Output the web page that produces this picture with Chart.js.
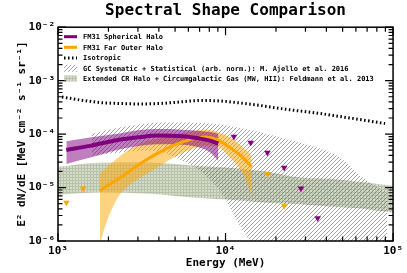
<!DOCTYPE html>
<html>
<head>
<meta charset="utf-8">
<script src="https://cdn.jsdelivr.net/npm/chart.js@4.4.1/dist/chart.umd.min.js"></script>
<style>
  html, body { margin: 0; padding: 0; background: #fff; }
  #wrap { width: 407px; height: 273px; }
</style>
</head>
<body>
<div id="wrap"><canvas id="spectrum" width="407" height="273"></canvas></div>
<script>
// Energies in MeV, fluxes as E^2 dN/dE [MeV cm^-2 s^-1 sr^-1]

// FM31 spherical halo (purple)
const sphE    = [1121, 1581, 2281, 3088, 3899, 5577, 7045, 8078, 9058];
const sphFlux = [5.05e-5, 6.08e-5, 7.78e-5, 8.78e-5, 9.37e-5, 9.16e-5, 8.23e-5, 7.55e-5, 6.63e-5];
const sphHi   = [7.32e-5, 8.71e-5, 1.01e-4, 1.19e-4, 1.24e-4, 1.21e-4, 1.14e-4, 1.09e-4, 1.02e-4];
const sphLo   = [2.76e-5, 3.67e-5, 5.12e-5, 6.08e-5, 6.49e-5, 6.35e-5, 5.58e-5, 4.59e-5, 3.18e-5];

// FM31 far outer halo (orange)
const farE    = [1781, 1961, 2250, 2444, 3088, 3899, 4861, 6139, 7545, 8898, 10640, 12720, 14330];
const farFlux = [8.69e-6, 1.08e-5, 1.40e-5, 1.66e-5, 2.79e-5, 4.30e-5, 6.08e-5, 7.88e-5, 8.78e-5, 7.88e-5, 5.58e-5, 3.62e-5, 2.45e-5];
const farHi   = [1.81e-5, 2.45e-5, 3.47e-5, 4.30e-5, 6.63e-5, 8.23e-5, 9.78e-5, 1.11e-4, 1.22e-4, 1.11e-4, 8.60e-5, 5.65e-5, 3.95e-5];
const farLo   = [9.0e-7, 2.37e-6, 6.15e-6, 8.69e-6, 1.52e-5, 2.35e-5, 3.62e-5, 5.12e-5, 6.08e-5, 5.82e-5, 3.62e-5, 1.81e-5, 7.0e-6];

// upper limits (down triangles)
const sphLimE    = [11220, 14125, 17783, 22387, 28184, 35481];
const sphLimFlux = [8.97e-5, 6.92e-5, 4.5e-5, 2.35e-5, 9.6e-6, 2.67e-6];
const farLimE    = [1122, 1413, 17783, 22387];
const farLimFlux = [5.24e-6, 9.6e-6, 1.79e-5, 4.54e-6];

// isotropic background
const isoE    = [1056, 1353, 1781, 2345, 3088, 4064, 5351, 7045, 9273, 12210, 16070, 21160, 27860, 36660, 48270, 63530, 89600];
const isoFlux = [4.95e-4, 4.35e-4, 3.90e-4, 3.74e-4, 3.66e-4, 3.74e-4, 3.99e-4, 4.26e-4, 4.17e-4, 3.82e-4, 3.43e-4, 3.01e-4, 2.70e-4, 2.43e-4, 2.13e-4, 1.87e-4, 1.575e-4];

// GC systematic + statistical band (hatched)
const gcE  = [1596, 2280, 3088, 4065, 5350, 7045, 9270, 12210, 16070, 21150, 27850, 36650, 48270, 63530, 92000];
const gcHi = [1.02e-4, 1.32e-4, 1.51e-4, 1.64e-4, 1.64e-4, 1.61e-4, 1.51e-4, 1.30e-4, 1.09e-4, 8.6e-5, 6.92e-5, 5.35e-5, 3.62e-5, 1.66e-5, 7.96e-6];
const gcLo = [3.95e-5, 4.5e-5, 4.9e-5, 4.7e-5, 3.32e-5, 2.06e-5, 8.7e-6, 1.91e-6, 4.2e-7, 1e-8, 1e-8, 1e-8, 1e-8, 1e-8, 1e-8];

// extended CR halo + circumgalactic gas band (green grid)
const cgmE  = [1000, 1781, 3542, 6580, 10640, 17690, 27850, 43830, 69960, 100000];
const cgmHi = [2.45e-5, 2.92e-5, 2.95e-5, 2.56e-5, 2.35e-5, 1.98e-5, 1.54e-5, 1.45e-5, 1.23e-5, 1.08e-5];
const cgmLo = [7.31e-6, 8.07e-6, 7.63e-6, 6.42e-6, 5.89e-6, 5.17e-6, 4.89e-6, 4.35e-6, 3.94e-6, 3.36e-6];

const xTicks = [1e3, 1e4, 1e5];
const yTicks = [1e-6, 1e-5, 1e-4, 1e-3, 1e-2];

const legendLabels = [
  'FM31 Spherical Halo',
  'FM31 Far Outer Halo',
  'Isotropic',
  'GC Systematic + Statistical (arb. norm.): M. Ajello et al. 2016',
  'Extended CR Halo + Circumgalactic Gas (MW, HII): Feldmann et al. 2013'
];

const PURPLE = '#800080';
const ORANGE = '#ffa500';
const MONO = "'DejaVu Sans Mono', monospace";

const SUP = { '-': '\u207B', '0': '\u2070', '1': '\u00B9', '2': '\u00B2', '3': '\u00B3',
  '4': '\u2074', '5': '\u2075', '6': '\u2076', '7': '\u2077', '8': '\u2078', '9': '\u2079' };
function pow10Label(v) {
  const e = Math.round(Math.log10(v));
  return '10' + String(e).split('').map(c => SUP[c]).join('');
}

function pts(xs, ys) {
  return xs.map((x, i) => ({ x, y: ys[i] }));
}

function makeHatch() {
  const c = document.createElement('canvas');
  c.width = 4; c.height = 4;
  const g = c.getContext('2d');
  g.strokeStyle = 'rgba(90,90,90,0.75)';
  g.lineWidth = 0.75;
  g.beginPath();
  g.moveTo(0, 4); g.lineTo(4, 0);
  g.moveTo(-1, 1); g.lineTo(1, -1);
  g.moveTo(3, 5); g.lineTo(5, 3);
  g.stroke();
  return g.createPattern(c, 'repeat');
}

function makeGrid() {
  const c = document.createElement('canvas');
  c.width = 3; c.height = 3;
  const g = c.getContext('2d');
  g.fillStyle = 'rgba(160,175,135,0.45)';
  g.fillRect(0, 0, 3, 3);
  g.fillStyle = 'rgba(120,135,100,0.3)';
  g.fillRect(0, 0, 3, 1);
  g.fillRect(0, 1, 1, 2);
  return g.createPattern(c, 'repeat');
}

const hatch = makeHatch();
const gridFill = makeGrid();

function lineSet(data, color, width, dash) {
  return {
    data, borderColor: color, borderWidth: width, borderDash: dash || [],
    pointRadius: 0, fill: false, cubicInterpolationMode: 'monotone'
  };
}
function bandSet(data, fillStyle, upper) {
  return {
    data, borderWidth: 0, borderColor: 'rgba(0,0,0,0)', pointRadius: 0,
    backgroundColor: fillStyle, fill: upper ? '+1' : false,
    cubicInterpolationMode: 'monotone'
  };
}
function limitSet(data, color) {
  return {
    data, showLine: false, pointStyle: 'triangle', pointRotation: 180,
    pointRadius: 3.3, pointBackgroundColor: color, pointBorderColor: color, pointBorderWidth: 0.5
  };
}

// inward ticks on all four sides plus frame
const frameTicks = {
  id: 'frameTicks',
  afterDatasetsDraw(chart) {
    const { ctx, chartArea: a, scales: { x, y } } = chart;
    ctx.save();
    ctx.strokeStyle = '#000';
    ctx.lineWidth = 1.2;
    ctx.beginPath();
    for (let p = 3; p < 5; p++) {
      for (let k = 1; k <= 10; k++) {
        const v = k * Math.pow(10, p);
        const px = x.getPixelForValue(v);
        const len = (k === 1 || k === 10) ? 8 : 4.5;
        ctx.moveTo(px, a.bottom); ctx.lineTo(px, a.bottom - len);
        ctx.moveTo(px, a.top); ctx.lineTo(px, a.top + len);
      }
    }
    for (let p = -6; p < -2; p++) {
      for (let k = 1; k <= 10; k++) {
        const v = k * Math.pow(10, p);
        const py = y.getPixelForValue(v);
        const len = (k === 1 || k === 10) ? 8 : 4.5;
        ctx.moveTo(a.left, py); ctx.lineTo(a.left + len, py);
        ctx.moveTo(a.right, py); ctx.lineTo(a.right - len, py);
      }
    }
    ctx.stroke();
    ctx.lineWidth = 1.5;
    ctx.strokeRect(a.left, a.top, a.right - a.left, a.bottom - a.top);
    ctx.restore();
  }
};

// legend in the upper left corner of the plot
const cornerLegend = {
  id: 'cornerLegend',
  afterDraw(chart) {
    const { ctx } = chart;
    const x0 = 64, x1 = 77, tx = 83;
    const rows = [36.7, 47.3, 58, 68.3, 78.5];
    ctx.save();
    ctx.lineCap = 'butt';
    ctx.lineWidth = 3;
    ctx.strokeStyle = PURPLE;
    ctx.beginPath(); ctx.moveTo(x0, rows[0]); ctx.lineTo(x1, rows[0]); ctx.stroke();
    ctx.strokeStyle = ORANGE;
    ctx.beginPath(); ctx.moveTo(x0, rows[1]); ctx.lineTo(x1, rows[1]); ctx.stroke();
    ctx.strokeStyle = '#000';
    ctx.setLineDash([1.5, 2.5]);
    ctx.beginPath(); ctx.moveTo(x0, rows[2]); ctx.lineTo(x1, rows[2]); ctx.stroke();
    ctx.setLineDash([]);
    ctx.fillStyle = hatch;
    ctx.fillRect(x0, rows[3] - 3.5, x1 - x0, 7);
    ctx.fillStyle = gridFill;
    ctx.fillRect(x0, rows[4] - 3, x1 - x0, 6);
    ctx.fillStyle = '#000';
    ctx.font = 'bold 7px ' + MONO;
    ctx.textBaseline = 'middle';
    legendLabels.forEach((t, i) => ctx.fillText(t, tx, rows[i] + 0.5));
    ctx.restore();
  }
};

new Chart(document.getElementById('spectrum'), {
  type: 'line',
  data: {
    datasets: [
      limitSet(pts(sphLimE, sphLimFlux), PURPLE),
      limitSet(pts(farLimE, farLimFlux), ORANGE),
      lineSet(pts(sphE, sphFlux), PURPLE, 4),
      lineSet(pts(farE, farFlux), ORANGE, 3),
      lineSet(pts(isoE, isoFlux), '#000', 3, [1.5, 2.5]),
      bandSet(pts(sphE, sphHi), 'rgba(128,0,128,0.5)', true),
      bandSet(pts(sphE, sphLo)),
      bandSet(pts(farE, farHi), 'rgba(255,165,0,0.5)', true),
      bandSet(pts(farE, farLo)),
      bandSet(pts(gcE, gcHi), hatch, true),
      bandSet(pts(gcE, gcLo)),
      bandSet(pts(cgmE, cgmHi), gridFill, true),
      bandSet(pts(cgmE, cgmLo))
    ]
  },
  options: {
    responsive: false,
    animation: false,
    events: [],
    layout: { padding: { right: 13.5 } },
    plugins: {
      legend: { display: false },
      tooltip: { enabled: false },
      title: {
        display: true,
        fullSize: false,
        text: 'Spectral Shape Comparison',
        color: '#000',
        font: { family: MONO, size: 16, weight: 'bold' },
        padding: { top: 1, bottom: 7 }
      }
    },
    scales: {
      x: {
        type: 'logarithmic',
        min: 1e3, max: 1e5,
        afterBuildTicks: s => { s.ticks = xTicks.map(v => ({ value: v })); },
        afterFit: s => { s.height = 32; },
        grid: { display: false, drawTicks: false },
        border: { display: false },
        ticks: {
          color: '#000', padding: 4, maxRotation: 0, autoSkip: false,
          font: { family: MONO, size: 11, weight: 'bold' },
          callback: v => pow10Label(v)
        },
        title: {
          display: true, text: 'Energy (MeV)', color: '#000',
          font: { family: MONO, size: 11, weight: 'bold' },
          padding: { top: 0, bottom: 3 }
        }
      },
      y: {
        type: 'logarithmic',
        min: 1e-6, max: 1e-2,
        afterBuildTicks: s => { s.ticks = yTicks.map(v => ({ value: v })); },
        afterFit: s => { s.width = 58; },
        grid: { display: false, drawTicks: false },
        border: { display: false },
        ticks: {
          color: '#000', padding: 3, autoSkip: false,
          font: { family: MONO, size: 11, weight: 'bold' },
          callback: v => pow10Label(v)
        },
        title: {
          display: true, text: 'E\u00B2 dN/dE [MeV cm\u207B\u00B2 s\u207B\u00B9 sr\u207B\u00B9]', color: '#000',
          font: { family: MONO, size: 11, weight: 'bold' },
          padding: { top: 15.5, bottom: 0 }
        }
      }
    }
  },
  plugins: [frameTicks, cornerLegend]
});
</script>
</body>
</html>
